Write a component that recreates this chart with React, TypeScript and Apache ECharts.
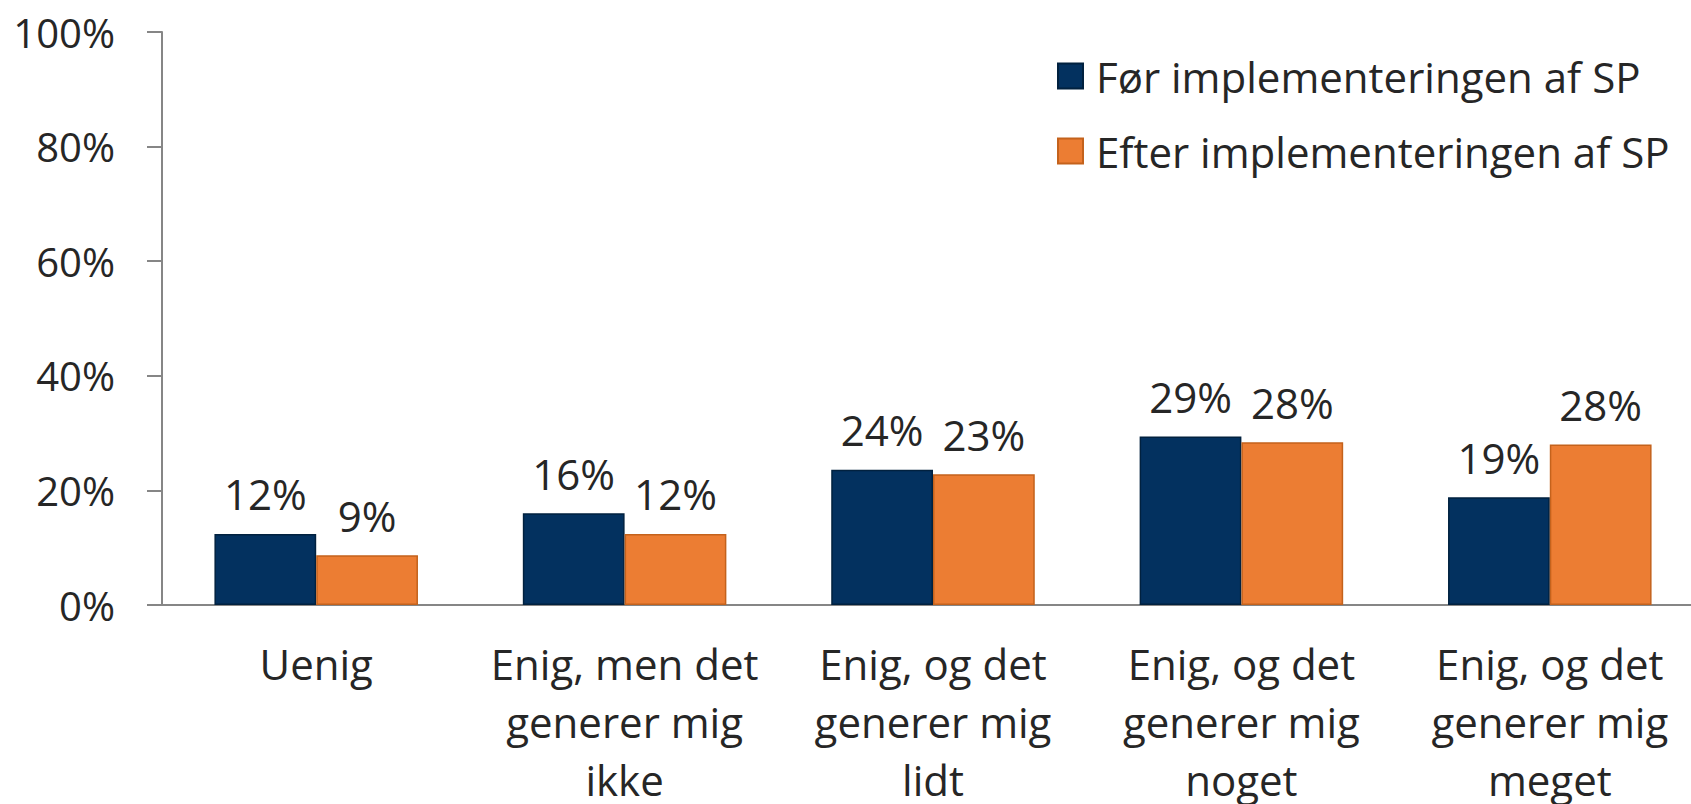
import React, { useEffect, useRef } from "react";
import * as echarts from "echarts";

const categories = [
  "Uenig",
  "Enig, men det\ngenerer mig\nikke",
  "Enig, og det\ngenerer mig\nlidt",
  "Enig, og det\ngenerer mig\nnoget",
  "Enig, og det\ngenerer mig\nmeget",
];
const seriesNames = ["Før implementeringen af SP", "Efter implementeringen af SP"];
const beforeValues = [12.4, 16.0, 23.6, 29.4, 18.8];
const afterValues = [8.7, 12.4, 22.8, 28.4, 28.0];
const yTicks = { min: 0, max: 100, interval: 20 };

const FONT = "'Open Sans', 'Liberation Sans', sans-serif";
const TEXT = "#262626";

export default function App() {
  const ref = useRef<HTMLDivElement>(null);
  useEffect(() => {
    if (!ref.current) return;
    const chart = echarts.init(ref.current, undefined, { renderer: "svg" });
    const label = {
      show: true,
      position: "top",
      distance: 19,
      fontSize: 42,
      fontFamily: FONT,
      color: TEXT,
      formatter: (p: any) => Math.round(p.value) + "%",
    };
    chart.setOption({
      animation: false,
      textStyle: { fontFamily: FONT },
      grid: {
        left: 162,
        top: 32,
        bottom: 199,
        right: -13,
        containLabel: false,
        outerBoundsMode: "none",
      },
      legend: {
        orient: "vertical",
        left: 1052,
        top: 46,
        itemWidth: 25,
        itemHeight: 25,
        itemGap: 25,
        icon: "rect",
        textStyle: { fontSize: 42, fontFamily: FONT, color: TEXT, lineHeight: 50, padding: [0, 0, 0, 8] },
        data: seriesNames,
      },
      xAxis: {
        type: "category",
        data: categories,
        axisLine: { show: true, lineStyle: { color: "#868686", width: 2 } },
        axisTick: { show: false },
        axisLabel: {
          interval: 0,
          fontSize: 42,
          lineHeight: 58,
          margin: 29,
          color: TEXT,
          fontFamily: FONT,
        },
      },
      yAxis: {
        type: "value",
        min: yTicks.min,
        max: yTicks.max,
        interval: yTicks.interval,
        splitLine: { show: false },
        axisLine: { show: true, lineStyle: { color: "#868686", width: 2 } },
        axisTick: { show: true, length: 15, lineStyle: { color: "#868686", width: 2 } },
        axisLabel: {
          formatter: "{value}%",
          fontSize: 40,
          margin: 47,
          color: TEXT,
          fontFamily: FONT,
        },
      },
      series: [
        {
          name: seriesNames[0],
          type: "bar",
          data: beforeValues,
          barGap: "0%",
          barCategoryGap: "34%",
          itemStyle: { color: "#03315f", borderColor: "#01213f", borderWidth: 1.5 },
          label,
        },
        {
          name: seriesNames[1],
          type: "bar",
          data: afterValues,
          barGap: "0%",
          barCategoryGap: "34%",
          itemStyle: { color: "#ec7d33", borderColor: "#c4621c", borderWidth: 1.5 },
          label,
        },
      ],
    });
    return () => chart.dispose();
  }, []);
  return (
    <div
      ref={ref}
      style={{ position: "absolute", left: 0, top: 0, width: 1691, height: 804, background: "#fff" }}
    />
  );
}
